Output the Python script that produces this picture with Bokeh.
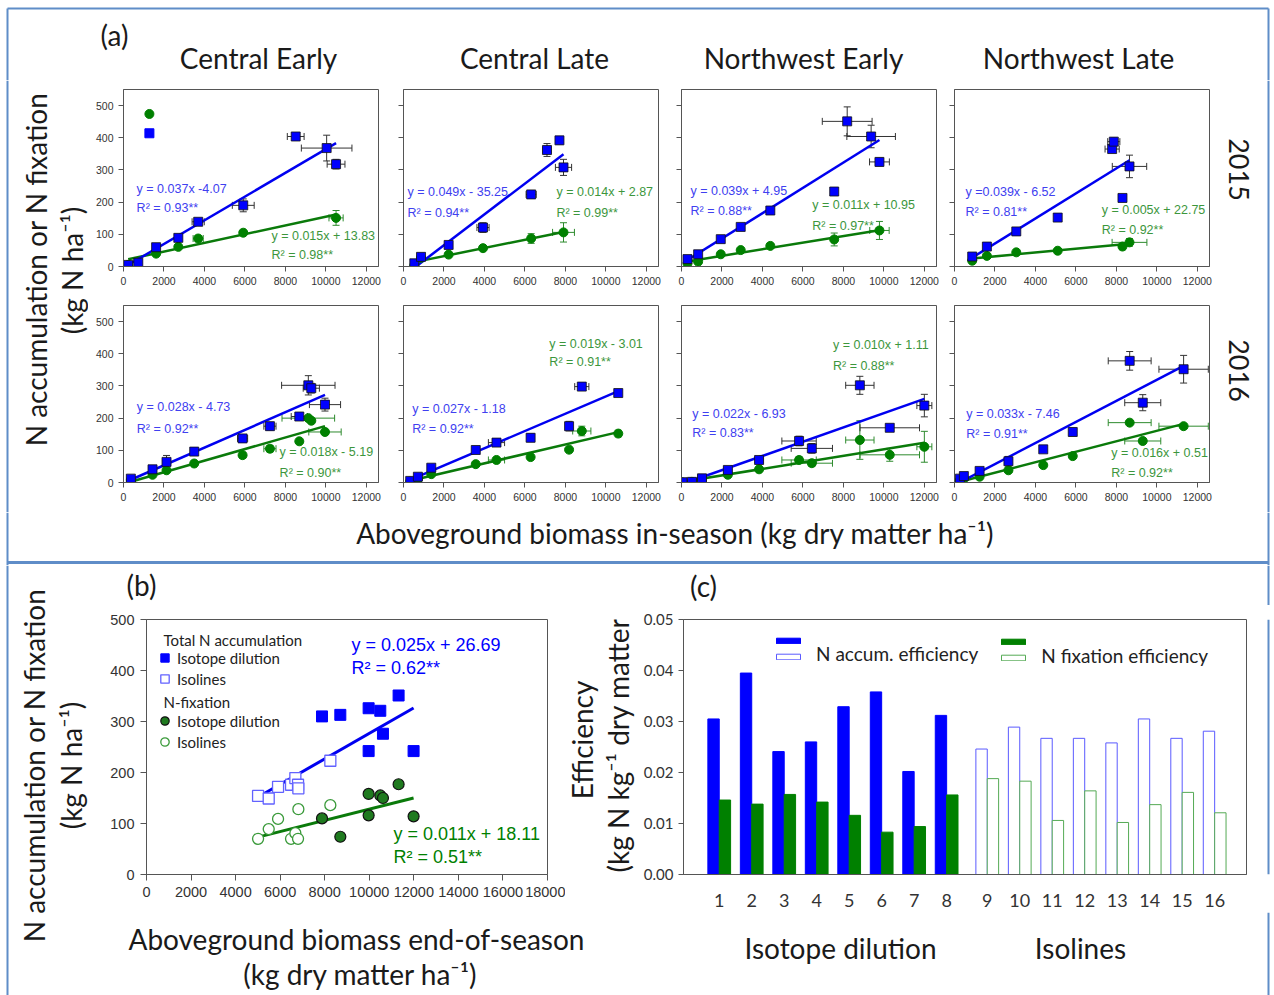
import numpy as np
from math import pi
from bokeh.plotting import figure
from bokeh.layouts import column, row
from bokeh.models import (Range1d, Label, FixedTicker, Whisker, TeeHead,
                          ColumnDataSource, Legend, LegendItem, NumeralTickFormatter)
from bokeh.embed import file_html
from bokeh.resources import INLINE

# ============================ DATA ============================
# ---- (a) in-season panels
a_cols = ["Central Early", "Central Late", "Northwest Early", "Northwest Late"]
a_years = ["2015", "2016"]
a_xticks = [0, 2000, 4000, 6000, 8000, 10000, 12000]
a_yticks = [0, 100, 200, 300, 400, 500]

# Central Early 2015  (b* = N accumulation, g* = N fixation, *e = +/- error)
ce15_bx = [233, 731, 1612, 2709, 3690, 5917, 8509, 10038, 10503]
ce15_by = [5, 12, 60, 89, 139, 190, 404, 368, 318]
ce15_bxe = [0, 0, 150, 150, 300, 540, 415, 1250, 440]
ce15_bye = [3, 5, 8, 8, 10, 20, 12, 40, 15]
ce15_gx = [233, 1612, 2709, 3690, 5917, 10503]
ce15_gy = [5, 40, 61, 87, 105, 151]
ce15_gxe = [0, 0, 0, 250, 0, 350]
ce15_gye = [0, 5, 5, 8, 5, 23]
ce15_out_x = [1280]
ce15_out_nacc = [414]
ce15_out_nfix = [474]
ce15_eq = ["y = 0.037x -4.07", "R² = 0.93**", "y = 0.015x + 13.83", "R² = 0.98**"]

# Central Late 2015
cl15_bx = [533, 866, 2230, 3928, 6308, 7090, 7706, 7906]
cl15_by = [10, 30, 67, 121, 224, 362, 392, 308]
cl15_bxe = [0, 100, 150, 300, 250, 200, 150, 400]
cl15_bye = [5, 8, 8, 15, 10, 20, 12, 25]
cl15_gx = [533, 866, 2230, 3928, 6308, 7906]
cl15_gy = [3, 27, 37, 57, 87, 106]
cl15_gxe = [0, 0, 0, 0, 0, 540]
cl15_gye = [0, 0, 5, 5, 15, 30]
cl15_eq = ["y = 0.049x - 35.25", "R² = 0.94**", "y = 0.014x + 2.87", "R² = 0.99**"]

# Northwest Early 2015
nwe15_bx = [296, 822, 1940, 2926, 4389, 7546, 8187, 9370, 9781]
nwe15_by = [23, 38, 85, 123, 174, 233, 451, 404, 325]
nwe15_bxe = [80, 100, 150, 150, 150, 150, 1230, 1200, 490]
nwe15_bye = [5, 8, 8, 10, 10, 10, 45, 35, 12]
nwe15_gx = [296, 822, 1940, 2926, 4389, 7546, 9781]
nwe15_gy = [9, 15, 38, 51, 64, 84, 112]
nwe15_gxe = [0, 0, 0, 0, 0, 0, 480]
nwe15_gye = [0, 0, 0, 0, 8, 20, 28]
nwe15_eq = ["y = 0.039x + 4.95", "R² = 0.88**", "y = 0.011x + 10.95", "R² = 0.97**"]

# Northwest Late 2015
nwl15_bx = [875, 1600, 3053, 5099, 7789, 7871, 8300, 8647]
nwl15_by = [31, 62, 109, 152, 365, 388, 213, 311]
nwl15_bxe = [100, 100, 150, 150, 350, 300, 100, 850]
nwl15_bye = [8, 10, 8, 10, 10, 12, 10, 35]
nwl15_gx = [875, 1600, 3053, 5099, 8300, 8647]
nwl15_gy = [18, 33, 44, 49, 62, 75]
nwl15_gxe = [0, 0, 0, 0, 0, 860]
nwl15_gye = [0, 0, 0, 0, 10, 12]
nwl15_eq = ["y =0.039x - 6.52", "R² = 0.81**", "y = 0.005x + 22.75", "R² = 0.92**"]

# Central Early 2016
ce16_bx = [363, 1434, 2126, 3494, 5884, 7236, 8687, 9132, 9280, 9956]
ce16_by = [12, 41, 64, 96, 137, 175, 205, 302, 293, 242]
ce16_bxe = [0, 0, 0, 150, 250, 300, 400, 1320, 400, 770]
ce16_bye = [8, 10, 20, 10, 10, 12, 12, 30, 15, 20]
ce16_gx = [363, 1434, 2126, 3494, 5884, 7236, 8687, 9132, 9280, 9956]
ce16_gy = [8, 24, 38, 59, 85, 105, 128, 200, 192, 157]
ce16_gxe = [0, 0, 0, 0, 150, 300, 0, 1300, 0, 800]
ce16_gye = [0, 0, 0, 0, 8, 10, 0, 0, 0, 0]
ce16_eq = ["y = 0.028x - 4.73", "R² = 0.92**", "y = 0.018x - 5.19", "R² = 0.90**"]

# Central Late 2016
cl16_bx = [331, 711, 1372, 3570, 4595, 6281, 8182, 8810, 10612]
cl16_by = [5, 18, 46, 101, 124, 139, 175, 298, 278]
cl16_bxe = [0, 100, 150, 100, 400, 150, 150, 350, 100]
cl16_bye = [3, 5, 10, 10, 8, 12, 15, 10, 10]
cl16_gx = [331, 711, 1372, 3570, 4595, 6281, 8182, 8810, 10612]
cl16_gy = [3, 11, 26, 57, 70, 79, 102, 160, 152]
cl16_gxe = [0, 0, 0, 0, 400, 0, 0, 450, 0]
cl16_gye = [0, 0, 0, 0, 8, 0, 0, 15, 10]
cl16_eq = ["y = 0.027x - 1.18", "R² = 0.92**", "y = 0.019x - 3.01", "R² = 0.91**"]

# Northwest Early 2016
nwe16_bx = [50, 515, 1012, 2290, 3834, 5809, 6440, 8813, 10290, 12000]
nwe16_by = [1, 2, 13, 39, 70, 129, 106, 302, 170, 239]
nwe16_bxe = [0, 0, 200, 200, 200, 850, 1020, 700, 1470, 370]
nwe16_bye = [0, 0, 5, 8, 10, 15, 15, 28, 8, 35]
nwe16_gx = [50, 515, 1012, 2290, 3834, 5809, 6440, 8813, 10290, 12000]
nwe16_gy = [0, 2, 10, 24, 41, 70, 60, 132, 86, 111]
nwe16_gxe = [0, 0, 0, 0, 0, 850, 1020, 700, 1470, 370]
nwe16_gye = [0, 0, 0, 0, 5, 10, 10, 60, 20, 48]
nwe16_eq = ["y = 0.022x - 6.93", "R² = 0.83**", "y = 0.010x + 1.11", "R² = 0.88**"]

# Northwest Late 2016
nwl16_bx = [265, 463, 1241, 2665, 4386, 5843, 8656, 9302, 11321]
nwl16_by = [12, 20, 36, 66, 103, 157, 378, 248, 352]
nwl16_bxe = [0, 100, 150, 150, 150, 150, 1060, 890, 1220]
nwl16_bye = [5, 8, 8, 15, 10, 12, 29, 25, 43]
nwl16_gx = [265, 463, 1241, 2665, 4386, 5843, 8656, 9302, 11321]
nwl16_gy = [7, 12, 18, 38, 54, 82, 186, 129, 175]
nwl16_gxe = [0, 0, 0, 0, 0, 0, 1060, 890, 1220]
nwl16_gye = [0, 0, 0, 0, 0, 0, 0, 0, 0]
nwl16_eq = ["y = 0.033x - 7.46", "R² = 0.91**", "y = 0.016x + 0.51", "R² = 0.92**"]

# ---- (b) end-of-season
b_iso_x = [7878, 8700, 9971, 9971, 10494, 10614, 11316, 11989]
b_iso_nacc = [310, 313, 326, 242, 321, 276, 351, 242]
b_iso_nfix = [110, 74, 158, 116, 155, 150, 177, 114]
b_isl_x = [5008, 5486, 5905, 6488, 6682, 6802, 6817, 8252]
b_isl_nacc = [154, 149, 172, 176, 189, 176, 169, 223]
b_isl_nfix = [70, 89, 109, 70, 81, 70, 128, 136]
b_fit_nacc = [0.025, 26.69]
b_fit_nfix = [0.011, 18.11]
b_eq = ["y = 0.025x + 26.69", "R² = 0.62**", "y = 0.011x + 18.11", "R² = 0.51**"]
b_xticks = [0, 2000, 4000, 6000, 8000, 10000, 12000, 14000, 16000, 18000]
b_yticks = [0, 100, 200, 300, 400, 500]

# ---- (c) efficiencies
c_cases = [str(i) for i in range(1, 17)]
c_method = ["Isotope dilution"] * 8 + ["Isolines"] * 8
c_nacc_eff = [0.0305, 0.0395, 0.0241, 0.0260, 0.0329, 0.0358, 0.0202, 0.0312,
              0.0246, 0.0289, 0.0267, 0.0267, 0.0258, 0.0305, 0.0267, 0.0281]
c_nfix_eff = [0.0146, 0.0138, 0.0157, 0.0142, 0.0116, 0.0083, 0.0094, 0.0156,
              0.0188, 0.0183, 0.0106, 0.0164, 0.0102, 0.0137, 0.0161, 0.0121]
c_yticks = [0.0, 0.01, 0.02, 0.03, 0.04, 0.05]

# ============================ STYLE ============================
BLUE = "#0000ff"
GREEN = "#008000"
BLUE_LINE = "#0000f0"
GREEN_LINE = "#0a7a0a"
BLUE_TXT = "#4040f0"
GREEN_TXT = "#3c963c"
FRAME = "#555555"
BORDER = "#5f8dc8"
INK = "#1a1a1a"
SANS = "Liberation Sans"
CAL = "Lato"
BIG = "28px"


def strip(x0, y0, w, h):
    p = figure(width=w, height=h, x_range=Range1d(x0, x0 + w), y_range=Range1d(y0 + h, y0),
               x_axis_type=None, y_axis_type=None, toolbar_location=None,
               output_backend="svg", min_border=0, title_location=None)
    p.outline_line_color = None
    p.border_fill_color = "white"
    p.background_fill_color = "white"
    return p


def label(p, x, y, s, size, angle=0.0, color=INK, font=CAL, align="center", baseline="middle"):
    p.add_layout(Label(x=x, y=y, text=s, angle=angle, text_font=font, text_font_size=size,
                       text_color=color, text_align=align, text_baseline=baseline))


def border(p, segs, width=2):
    x0, y0, x1, y1 = zip(*segs)
    p.segment(x0=list(x0), y0=list(y0), x1=list(x1), y1=list(y1),
              line_color=BORDER, line_width=width)


def style(p, xticks, yticks, size, font=SANS, tick_out=5, standoff=5, color="#333333"):
    p.xgrid.visible = False
    p.ygrid.visible = False
    p.outline_line_color = FRAME
    p.outline_line_width = 1
    for ax in (p.xaxis[0], p.yaxis[0]):
        ax.axis_line_color = FRAME
        ax.major_tick_line_color = FRAME
        ax.major_tick_out = tick_out
        ax.major_tick_in = 0
        ax.minor_tick_line_color = None
        ax.major_label_text_font = font
        ax.major_label_text_font_size = size
        ax.major_label_text_color = color
        ax.major_label_standoff = standoff
    p.xaxis[0].ticker = FixedTicker(ticks=xticks)
    p.yaxis[0].ticker = FixedTicker(ticks=yticks)


def errbars(p, x, y, xe, ye, color):
    x = np.asarray(x, float); y = np.asarray(y, float)
    xe = np.asarray(xe, float); ye = np.asarray(ye, float)
    for e, base_v, ctr, dim in ((xe, y, x, "width"), (ye, x, y, "height")):
        m = e > 0
        if not m.any():
            continue
        src = ColumnDataSource(dict(b=base_v[m], lo=ctr[m] - e[m], up=ctr[m] + e[m]))
        p.add_layout(Whisker(source=src, base="b", lower="lo", upper="up", dimension=dim,
                             level="underlay", line_color=color, line_width=1,
                             upper_head=TeeHead(size=7, line_color=color, line_width=1),
                             lower_head=TeeHead(size=7, line_color=color, line_width=1)))


# ============================ PANEL (a) ============================
A_DATA = [
    (ce15_bx, ce15_by, ce15_bxe, ce15_bye, ce15_gx, ce15_gy, ce15_gxe, ce15_gye, ce15_eq),
    (cl15_bx, cl15_by, cl15_bxe, cl15_bye, cl15_gx, cl15_gy, cl15_gxe, cl15_gye, cl15_eq),
    (nwe15_bx, nwe15_by, nwe15_bxe, nwe15_bye, nwe15_gx, nwe15_gy, nwe15_gxe, nwe15_gye, nwe15_eq),
    (nwl15_bx, nwl15_by, nwl15_bxe, nwl15_bye, nwl15_gx, nwl15_gy, nwl15_gxe, nwl15_gye, nwl15_eq),
    (ce16_bx, ce16_by, ce16_bxe, ce16_bye, ce16_gx, ce16_gy, ce16_gxe, ce16_gye, ce16_eq),
    (cl16_bx, cl16_by, cl16_bxe, cl16_bye, cl16_gx, cl16_gy, cl16_gxe, cl16_gye, cl16_eq),
    (nwe16_bx, nwe16_by, nwe16_bxe, nwe16_bye, nwe16_gx, nwe16_gy, nwe16_gxe, nwe16_gye, nwe16_eq),
    (nwl16_bx, nwl16_by, nwl16_bxe, nwl16_bye, nwl16_gx, nwl16_gy, nwl16_gxe, nwl16_gye, nwl16_eq),
]
# text anchor positions (data units) for equation labels: blue eq, blue R2, green eq, green R2
A_EQPOS = [
    [(648, 242), (648, 182), (7313, 96), (7313, 35)],
    [(200, 230), (200, 166), (7557, 230), (7557, 166)],
    [(444, 235), (444, 172), (6464, 192), (6464, 126)],
    [(545, 230), (545, 168), (7277, 175), (7277, 113)],
    [(659, 234), (659, 167), (7714, 96), (7714, 31)],
    [(430, 229), (430, 167), (7207, 430), (7207, 373)],
    [(531, 212), (531, 153), (7485, 426), (7485, 361)],
    [(579, 213), (579, 152), (7746, 92), (7746, 28)],
]
A_COLS = [(302, 35, 12), (278, 13, 10), (276, 13, 8), (278, 10, 13)]

a_panels = []
for i, (bx, by, bxe, bye, gx, gy, gxe, gye, eqs) in enumerate(A_DATA):
    r, c = divmod(i, 4)
    w, mbl, mbr = A_COLS[c]
    p = figure(width=w, height=216, x_range=Range1d(0, 12600), y_range=Range1d(0, 550),
               min_border_left=mbl, min_border_right=mbr, min_border_top=9, min_border_bottom=30,
               toolbar_location=None, output_backend="svg", title_location=None)
    style(p, a_xticks, a_yticks, "10.5px")
    if c > 0:
        p.yaxis[0].major_label_text_font_size = "1px"
        p.yaxis[0].major_label_text_color = None
    errbars(p, gx, gy, gxe, gye, "#2e8b2e")
    errbars(p, bx, by, bxe, bye, "#333333")
    for xs, ys, col in ((gx, gy, GREEN_LINE), (bx, by, BLUE_LINE)):
        k = np.polyfit(xs, ys, 1)
        xx = np.array([min(xs), max(xs)], float)
        p.line(xx, np.polyval(k, xx), line_color=col, line_width=2.5)
    p.scatter(gx, gy, marker="circle", size=9, fill_color=GREEN, line_color=GREEN)
    p.scatter(bx, by, marker="square", size=9, fill_color=BLUE, line_color="#111111", line_width=0.8)
    if i == 0:
        p.scatter(ce15_out_x, ce15_out_nfix, marker="circle", size=9, fill_color=GREEN, line_color=GREEN)
        p.scatter(ce15_out_x, ce15_out_nacc, marker="square", size=9, fill_color=BLUE, line_color=BLUE)
    for (tx, ty), s, col in zip(A_EQPOS[i], eqs, [BLUE_TXT, BLUE_TXT, GREEN_TXT, GREEN_TXT]):
        label(p, tx, ty, s, "12.5px", color=col, font=SANS, align="left")
    a_panels.append(p)

# ============================ PANEL (b) ============================
pB = figure(width=470, height=307, x_range=Range1d(0, 18000), y_range=Range1d(0, 500),
            min_border_left=51, min_border_right=18, min_border_top=14, min_border_bottom=35,
            toolbar_location=None, output_backend="svg", title_location=None)
style(pB, b_xticks, b_yticks, "14.5px", tick_out=6, standoff=6)
allx = b_isl_x + b_iso_x
xx = np.array([min(allx), max(allx)], float)
pB.line(xx, np.polyval(b_fit_nacc, xx), line_color=BLUE_LINE, line_width=3)
pB.line(xx, np.polyval(b_fit_nfix, xx), line_color=GREEN_LINE, line_width=3)
r_bo = pB.scatter(b_isl_x, b_isl_nacc, marker="square", size=11, fill_color="white",
                  line_color="#6262ff", line_width=1.3)
r_bf = pB.scatter(b_iso_x, b_iso_nacc, marker="square", size=11, fill_color=BLUE, line_color=BLUE)
r_go = pB.scatter(b_isl_x, b_isl_nfix, marker="circle", size=11, fill_color="white",
                  line_color="#3a9a3a", line_width=1.3)
r_gf = pB.scatter(b_iso_x, b_iso_nfix, marker="circle", size=11, fill_color="#1f7a1f",
                  line_color="#111111", line_width=1.2)
leg_kw = dict(glyph_width=21, glyph_height=21, label_standoff=2, label_height=21, spacing=0,
              padding=0, margin=0, label_text_font=CAL, label_text_font_size="15px",
              label_text_color="#222222", border_line_alpha=0, background_fill_alpha=0)
pB.add_layout(Legend(items=[LegendItem(label="Isotope dilution", renderers=[r_bf]),
                            LegendItem(label="Isolines", renderers=[r_bo])],
                     location=(8, 185), **leg_kw))
pB.add_layout(Legend(items=[LegendItem(label="Isotope dilution", renderers=[r_gf]),
                            LegendItem(label="Isolines", renderers=[r_go])],
                     location=(8, 122), **leg_kw))
label(pB, 763, 460, "Total N accumulation", "15px", color="#222222", align="left")
label(pB, 763, 338, "N-fixation", "15px", color="#222222", align="left")
for (tx, ty), s, col in zip([(9202, 450), (9202, 405), (11087, 80), (11087, 35)], b_eq,
                            [BLUE, BLUE, GREEN, GREEN]):
    label(pB, tx, ty, s, "18px", color=col, font=SANS, align="left")

# ============================ PANEL (c) ============================
pos = [4 * i if i <= 8 else 4 * i + 1 for i in range(1, 17)]   # quarter units, gap between methods
pC = figure(width=622, height=307, x_range=Range1d(-0.4, 68.92), y_range=Range1d(0, 0.05),
            min_border_left=41, min_border_right=16, min_border_top=6, min_border_bottom=38,
            toolbar_location=None, output_backend="svg", title_location=None)
style(pC, pos, c_yticks, "15px", font=CAL, tick_out=5, standoff=5)
pC.yaxis[0].formatter = NumeralTickFormatter(format="0.00")
pC.xaxis[0].major_tick_out = 0
pC.xaxis[0].major_label_standoff = 19
pC.xaxis[0].major_label_text_font_size = "18px"
pC.xaxis[0].major_label_overrides = {p_: s for p_, s in zip(pos, c_cases)}
iso = [k for k, m in enumerate(c_method) if m == "Isotope dilution"]
isl = [k for k, m in enumerate(c_method) if m == "Isolines"]
r_cbf = pC.vbar(x=[pos[k] - 0.7 for k in iso], top=[c_nacc_eff[k] for k in iso], width=1.4,
                fill_color=BLUE, line_color=BLUE)
r_cgf = pC.vbar(x=[pos[k] + 0.7 for k in iso], top=[c_nfix_eff[k] for k in iso], width=1.4,
                fill_color=GREEN, line_color=GREEN)
r_cbo = pC.vbar(x=[pos[k] - 0.7 for k in isl], top=[c_nacc_eff[k] for k in isl], width=1.4,
                fill_color="white", line_color="#5a5aff", line_width=1)
r_cgo = pC.vbar(x=[pos[k] + 0.7 for k in isl], top=[c_nfix_eff[k] for k in isl], width=1.4,
                fill_color="white", line_color="#55aa55", line_width=1)
cleg = dict(glyph_width=30, glyph_height=7, label_standoff=0, label_height=16, spacing=0,
            padding=0, margin=0, label_text_font_size="1px", label_text_color=None,
            border_line_alpha=0, background_fill_alpha=0)
pC.add_layout(Legend(items=[LegendItem(label=" ", renderers=[r_cbf]),
                            LegendItem(label=" ", renderers=[r_cbo])],
                     location=(90, 210), **cleg))
pC.add_layout(Legend(items=[LegendItem(label=" ", renderers=[r_cgf]),
                            LegendItem(label=" ", renderers=[r_cgo])],
                     location=(315, 209), **cleg))
label(pC, 15.92, 0.0434, "N accum. efficiency", "19px", color="#222222", align="left")
label(pC, 43.65, 0.0430, "N fixation efficiency", "19px", color="#222222", align="left")

# ============================ STRIPS ============================
TOP = strip(0, 0, 1274, 80)
border(TOP, [(7, 8, 1268, 8), (7, 8, 7, 80), (1268, 8, 1268, 80)])
label(TOP, 114, 34, "(a)", BIG)
for name, cx in zip(a_cols, [258, 534, 803, 1078]):
    label(TOP, cx, 57, name, BIG)

LA = strip(0, 80, 88, 432)
border(LA, [(7, 80, 7, 512)])
label(LA, 35, 269, "N accumulation or N fixation", BIG, angle=pi / 2)
label(LA, 71, 270, "(kg N ha⁻¹)", BIG, angle=pi / 2)

RA = strip(1222, 80, 52, 432)
border(RA, [(1268, 80, 1268, 512)])
label(RA, 1238, 169, a_years[0], "27px", angle=-pi / 2)
label(RA, 1238, 370, a_years[1], "27px", angle=-pi / 2)

MID = strip(0, 512, 1274, 53)
border(MID, [(7, 512, 7, 565), (1268, 512, 1268, 565)])
border(MID, [(7, 562, 1268, 562)], width=3)
label(MID, 675, 532, "Aboveground biomass in-season (kg dry matter ha⁻¹)", BIG)

LB = strip(0, 565, 95, 430)
border(LB, [(7, 565, 7, 995)])
label(LB, 33, 765, "N accumulation or N fixation", BIG, angle=pi / 2)
label(LB, 70, 765, "(kg N ha⁻¹)", BIG, angle=pi / 2)

MB = strip(95, 565, 1179, 40)
border(MB, [(1268, 565, 1268, 605)])
label(MB, 141, 584, "(b)", BIG)
label(MB, 703, 585, "(c)", BIG)

CS = strip(565, 605, 75, 307)
label(CS, 581, 750, "Efficiency", BIG, angle=pi / 2)
label(CS, 617, 752, "(kg N kg⁻¹ dry matter)", BIG, angle=pi / 2)

RB = strip(1262, 605, 12, 307)
border(RB, [(1268, 605, 1268, 912)])

BB = strip(95, 912, 1179, 83)
border(BB, [(1268, 912, 1268, 995)])
label(BB, 356, 938, "Aboveground biomass end-of-season", BIG)
label(BB, 360, 973, "(kg dry matter ha⁻¹)", BIG)
label(BB, 840, 947, c_method[0], BIG)
label(BB, 1080, 947, c_method[-1], BIG)

gridA = column(row(*a_panels[:4]), row(*a_panels[4:]))
root = column(TOP, row(LA, gridA, RA), MID,
              row(LB, column(MB, row(pB, CS, pC, RB), BB)))

open("out.html", "w").write(file_html(root, INLINE))
